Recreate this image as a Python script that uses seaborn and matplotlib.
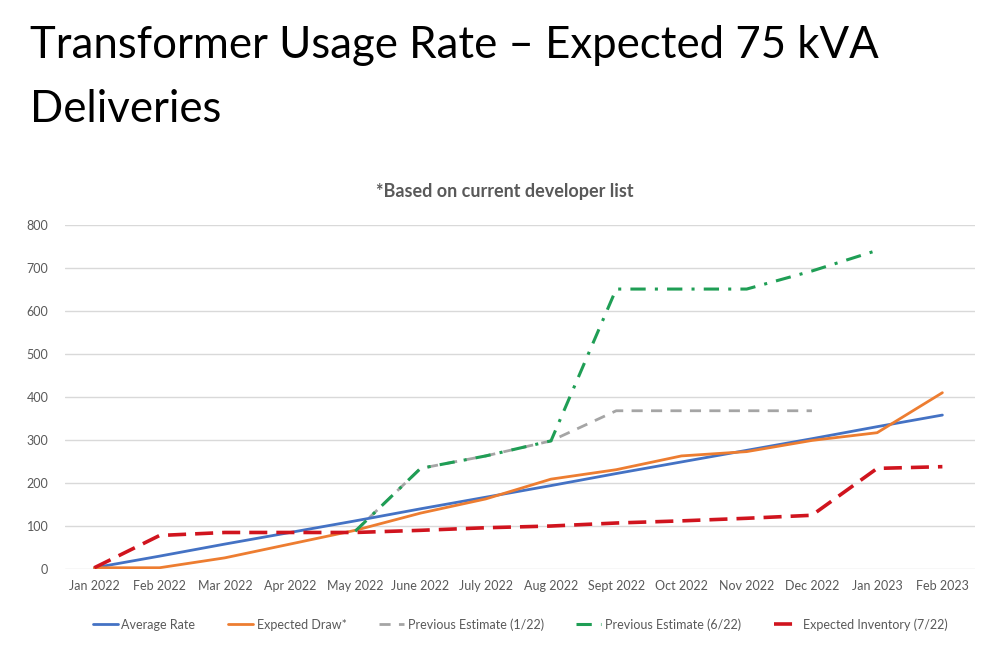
import numpy as np
import pandas as pd
import seaborn as sns
import matplotlib.pyplot as plt

# month labels along x
months = ['Jan 2022', 'Feb 2022', 'Mar 2022', 'Apr 2022', 'May 2022', 'June 2022', 'July 2022',
          'Aug 2022', 'Sept 2022', 'Oct 2022', 'Nov 2022', 'Dec 2022', 'Jan 2023', 'Feb 2023']

# values
average_rate = [3, 30, 58, 85, 112, 140, 167, 194, 222, 249, 276, 303, 331, 358]
expected_draw = [3, 3, 26, 58, 90, 130, 163, 209, 231, 263, 273, 299, 317, 410]
prev_est_1_22 = [np.nan, np.nan, np.nan, np.nan, 88, 234, 263, 298, 368, 368, 368, 368, np.nan, np.nan]
prev_est_6_22 = [np.nan, np.nan, np.nan, np.nan, 88, 234, 263, 298, 651, 651, 651, 693, 741, np.nan]
expected_inventory = [3, 78, 85, 85, 85, 90, 96, 100, 107, 112, 118, 125, 234, 238]

series_names = ['Average Rate', 'Expected Draw*', 'Previous Estimate (1/22)',
                'Previous Estimate (6/22)', 'Expected Inventory (7/22)']
series_values = [average_rate, expected_draw, prev_est_1_22, prev_est_6_22, expected_inventory]

rows = []
for name, vals in zip(series_names, series_values):
    for i, v in enumerate(vals):
        rows.append({'idx': i, 'value': v, 'series': name})
df = pd.DataFrame(rows)

sns.set_style('white')
plt.rcParams['font.family'] = ['Lato', 'DejaVu Sans']

colors = {'Average Rate': '#4472C4', 'Expected Draw*': '#ED7D31', 'Previous Estimate (1/22)': '#A5A5A5',
          'Previous Estimate (6/22)': '#1F9E55', 'Expected Inventory (7/22)': '#D0141E'}
styles = {'Average Rate': ('-', 2.0), 'Expected Draw*': ('-', 2.0), 'Previous Estimate (1/22)': ((0, (4, 3)), 2.0),
          'Previous Estimate (6/22)': ((0, (5, 3, 1, 3)), 2.2), 'Expected Inventory (7/22)': ((0, (5, 2.5)), 2.6)}

fig = plt.figure(figsize=(10, 6.66), dpi=100)
ax = fig.add_axes([0.065, 0.1456, 0.91, 0.5166])

# draw order: grey under green
for name in ['Previous Estimate (1/22)', 'Average Rate', 'Expected Draw*',
             'Previous Estimate (6/22)', 'Expected Inventory (7/22)']:
    sub = df[df['series'] == name].dropna()
    ls, lw = styles[name]
    sns.lineplot(data=sub, x='idx', y='value', ax=ax, color=colors[name], linestyle=ls,
                 linewidth=lw, label=name)

ax.set_xlim(-0.45, 13.5)
ax.set_ylim(0, 800)
ax.set_yticks(range(0, 801, 100))
ax.set_xticks(range(len(months)))
ax.set_xticklabels(months)
ax.set_xlabel('')
ax.set_ylabel('')
ax.grid(axis='y', color='#D9D9D9', linewidth=1)
ax.set_axisbelow(True)
for s in ax.spines.values():
    s.set_visible(False)
ax.tick_params(axis='both', labelsize=9, colors='#595959', length=0)
ax.tick_params(axis='y', pad=12)
ax.tick_params(axis='x', pad=8)

handles, labels = ax.get_legend_handles_labels()
order = [labels.index(n) for n in series_names]
ax.legend([handles[i] for i in order], [labels[i] for i in order], loc='upper center',
          bbox_to_anchor=(0.5, -0.11), ncol=5, frameon=False, fontsize=9, handlelength=2.0,
          columnspacing=2.6, handletextpad=0.3, labelcolor='#595959')

fig.text(0.03, 0.962, 'Transformer Usage Rate – Expected 75 kVA\nDeliveries', fontsize=31.5,
         va='top', ha='left', color='black', linespacing=1.68)
fig.text(0.505, 0.712, '*Based on current developer list', fontsize=13, fontweight='bold',
         color='#595959', ha='center', va='center')

fig.savefig('out.png', dpi=100, facecolor='white')
